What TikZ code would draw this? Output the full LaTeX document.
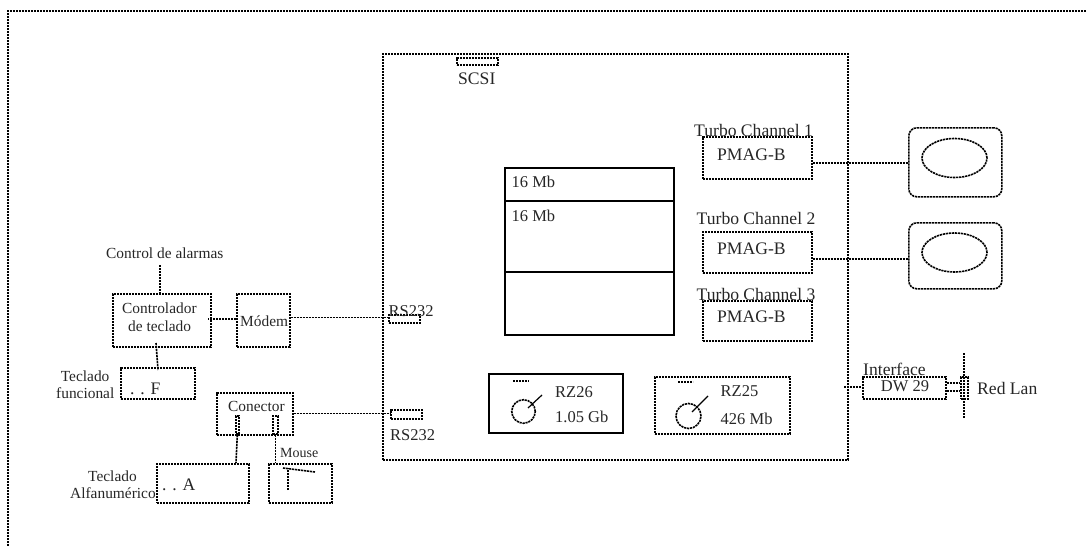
\documentclass[tikz,border=0pt]{standalone}
\usepackage{fontspec}
\usetikzlibrary{shapes.geometric}
\setmainfont{Liberation Serif}
\tikzset{
  x=1pt,y=-1pt,
  dsh/.style={draw,line width=1.6pt,dash pattern=on 2.2pt off 0.8pt},
  solidln/.style={draw,line width=1.5pt},
  txt/.style={inner sep=0pt,anchor=base west,text=black!85},
  big/.style={txt,font=\fontsize{17.6}{20}\selectfont},
  lbl/.style={txt,font=\fontsize{16.5}{19}\selectfont},
  sml/.style={txt,font=\fontsize{15.4}{18}\selectfont},
  tin/.style={txt,font=\fontsize{14}{16}\selectfont},
  bx/.style={dsh,rectangle,inner sep=0pt},
}
\newcommand{\bxat}[6][bx]{\node[#1,anchor=north west,minimum width=#4pt,minimum height=#5pt] (#2) at (#3) {#6};}
\begin{document}
\begin{tikzpicture}
\useasboundingbox (0,0) rectangle (1087,546);
% outer frame (open at the bottom and right)
\coordinate (fa) at (8,546);
\coordinate (fb) at (8,11);
\coordinate (fc) at (1087,11);
\draw[dsh] (fa) -- (fb) -- (fc);
% main board
\bxat{board}{382,53}{465}{406}{}
\bxat{scsi}{456,57}{41}{7}{}
\node[big] (scsit) at (458,84) {SCSI};
% memory
\bxat[solidln]{mem1}{504,167}{169}{33}{}
\bxat[solidln]{mem2}{504,200}{169}{71}{}
\bxat[solidln]{mem3}{504,271}{169}{63}{}
\node[lbl] (m1) at (511.5,187) {16 Mb};
\node[lbl] (m2) at (511.5,221) {16 Mb};
% RS232
\bxat{rsa}{388,314}{31}{8}{}
\bxat{rsb}{390,409}{31}{9}{}
\node[lbl] (rsat) at (388.5,316) {RS232};
\node[lbl] (rsbt) at (390,440) {RS232};
% disks
\bxat[solidln]{rz6}{488,373}{134}{59}{}
\coordinate (d6a) at (513,381); \coordinate (d6b) at (529,381);
\draw[dsh] (d6a) -- (d6b);
\node[dsh,circle,minimum size=23.5pt,inner sep=0pt] (c6) at (523.5,411.5) {};
\coordinate (n6a) at (528,408); \coordinate (n6b) at (542,395);
\draw[line width=1.2pt] (n6a) -- (n6b);
\node[lbl] (rz6a) at (555,397) {RZ26};
\node[lbl] (rz6b) at (555,422) {1.05 Gb};
\bxat{rz5}{654,376}{135}{57}{}
\coordinate (d5a) at (678,382); \coordinate (d5b) at (693,382);
\draw[dsh] (d5a) -- (d5b);
\node[dsh,circle,minimum size=25pt,inner sep=0pt] (c5) at (688.5,416) {};
\coordinate (n5a) at (692,412); \coordinate (n5b) at (708,396);
\draw[line width=1.2pt] (n5a) -- (n5b);
\node[lbl] (rz5a) at (720.5,396) {RZ25};
\node[lbl] (rz5b) at (720.5,424) {426 Mb};
% turbo channels
\bxat{pa}{702,136}{109}{42}{}
\bxat{pb}{702,231}{109}{41}{}
\bxat{pc}{702,300}{109}{40}{}
\node[big] (pat) at (717,160) {PMAG-B};
\node[big] (pbt) at (717,254) {PMAG-B};
\node[big] (pct) at (717,322) {PMAG-B};
\node[big] (ta) at (694,136) {Turbo Channel 1};
\node[big] (tb) at (696.5,224) {Turbo Channel 2};
\node[big] (tc) at (696.5,300) {Turbo Channel 3};
% monitors
\node[dsh,rectangle,rounded corners=8pt,anchor=north west,minimum width=93pt,minimum height=69pt] (ma) at (908,127) {};
\node[dsh,rectangle,rounded corners=8pt,anchor=north west,minimum width=93pt,minimum height=66pt] (mb) at (908,222) {};
\node[dsh,ellipse,minimum width=65pt,minimum height=39pt,inner sep=0pt] (ea) at (954.5,158) {};
\node[dsh,ellipse,minimum width=65pt,minimum height=39pt,inner sep=0pt] (eb) at (954.5,252.5) {};
\draw[dsh] (pa.east |- 0,163) -- (ma.west |- 0,163);
\draw[dsh] (pb.east |- 0,259) -- (mb.west |- 0,259);
% DW29 and LAN
\bxat{dw}{862,376}{83}{22}{}
\node[big] (ift) at (863,375) {Interface};
\node[lbl] (dwt) at (880.7,391) {DW 29};
\bxat{tap}{960,376}{7}{22}{}
\coordinate (lana) at (964,353); \coordinate (lanb) at (964,418);
\draw[dsh] (lana) -- (lanb);
\draw[dsh] (dw.east |- 0,383) -- (tap.west |- 0,383);
\draw[dsh] (dw.east |- 0,391) -- (tap.west |- 0,391);
\node[big] (lant) at (977,394) {Red Lan};
\coordinate (bif) at (844,387);
\draw[dsh] (bif) -- (dw.west |- bif);
% left side
\node[sml] (alarm) at (106,258) {Control de alarmas};
\bxat{ctl}{112,293}{98}{53}{}
\node[sml] (ctlt) at (122,313) {Controlador};
\node[sml] (ctlu) at (128,331) {de teclado};
\bxat{modem}{236,293}{53}{53}{}
\node[sml] (modt) at (240,326) {Módem};
\bxat{fbox}{120,367}{74}{31}{}
\node[big] (ft) at (130,394) {. . F};
\node[sml] (ftla) at (60.7,381) {Teclado};
\node[sml] (ftlb) at (56,398) {funcional};
\bxat{con}{216,392}{76}{42}{}
\node[sml] (cont) at (228,411) {Conector};
\bxat{pta}{235,415}{3}{18}{}
\bxat{ptb}{272,415}{5}{18}{}
\bxat{abox}{156,463}{92}{39}{}
\node[big] (at) at (162,490) {. . A};
\node[sml] (atla) at (88,481) {Teclado};
\node[sml] (atlb) at (70,498) {Alfanumérico};
\bxat{mbox}{268,463}{63}{39}{}
\node[tin] (mt) at (280,457) {Mouse};
\coordinate (alarmb) at (160,265);
\coordinate (mpa) at (288,490); \coordinate (mpb) at (288,468);
\coordinate (mpd) at (283,468); \coordinate (mpc) at (315,472);
\draw[dsh] (mpa) -- (mpb);
\draw[dsh] (mpd) -- (mpc);
\draw[dsh] (alarmb) -- (alarmb |- ctl.north);
\coordinate (cf) at (156,343); \coordinate (ff) at (158,370);
\draw[dsh] (cf) -- (ff);
\coordinate (ctli) at (208,319);
\draw[dsh] (modem.west |- ctli) -- (ctli);
\draw[dsh] (modem.east |- 0,317.5) -- (rsa.west |- 0,317.5);
\draw[dsh] (con.east |- 0,413.5) -- (rsb.west |- 0,413.5);
\draw[dsh] (pta.south) -- (abox.north -| 236,463);
\draw[dsh] (ptb.south) -- (ptb.south |- mbox.north);
\end{tikzpicture}
\end{document}
